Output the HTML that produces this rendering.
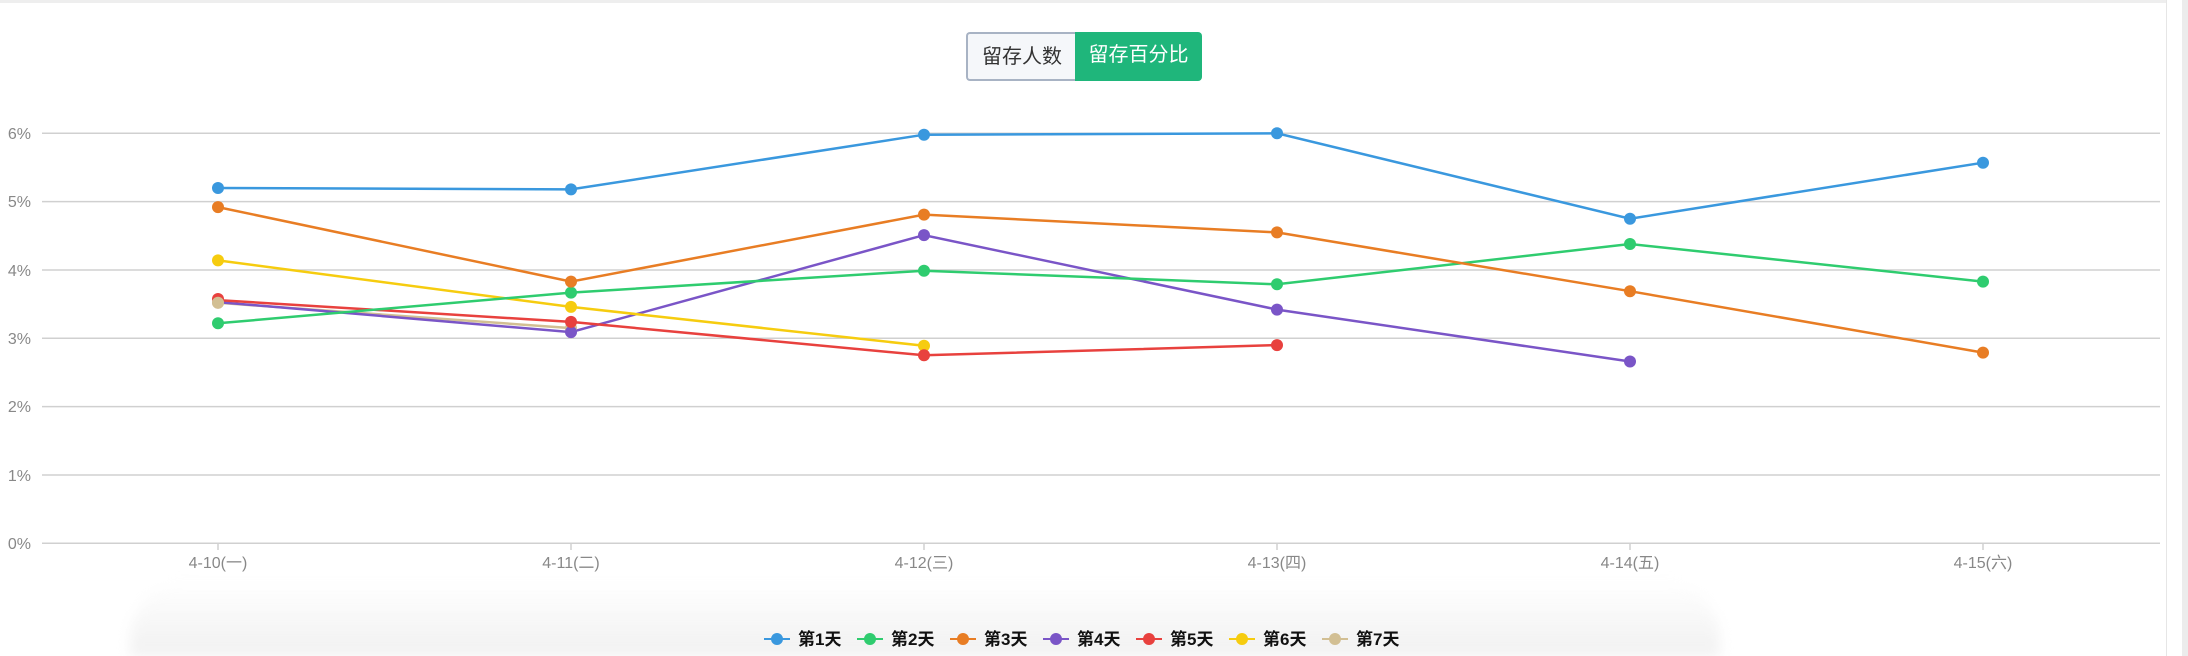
<!DOCTYPE html>
<html><head><meta charset="utf-8"><style>
html,body{margin:0;padding:0;background:#fff;}
body{width:2188px;height:656px;overflow:hidden;position:relative;font-family:"Liberation Sans","Noto Sans CJK SC",sans-serif;}
.btn{position:absolute;top:32px;height:49px;box-sizing:border-box;font-size:20px;line-height:47px;text-align:center;}
</style></head><body>
<div style="position:absolute;left:0;top:0;width:2166px;height:3px;background:#eeeeee"></div>
<div style="position:absolute;left:2166px;top:0;width:1px;height:656px;background:#e6e6e6"></div>
<div style="position:absolute;left:2182px;top:0;width:6px;height:656px;background:#ececec"></div>
<div style="position:absolute;left:130px;top:580px;width:1590px;height:76px;background:linear-gradient(rgba(240,240,240,0),#f1f1f1);border-radius:60px 60px 0 0;filter:blur(6px)"></div>
<div class="btn" style="left:966px;width:110px;border:2px solid #a8b3c4;border-right:none;border-radius:4px 0 0 4px;background:#f5f7fa;color:#333">留存人数</div>
<div class="btn" style="left:1075px;width:127px;background:#1fb67b;color:#fff;border-radius:0 4px 4px 0">留存百分比</div>
<svg width="2188" height="656" style="position:absolute;left:0;top:0">
<g stroke="#d0d0d0" stroke-width="1.5">
<line x1="42" x2="2160" y1="133.3" y2="133.3"/><line x1="42" x2="2160" y1="201.6" y2="201.6"/>
<line x1="42" x2="2160" y1="270" y2="270"/><line x1="42" x2="2160" y1="338.3" y2="338.3"/>
<line x1="42" x2="2160" y1="406.6" y2="406.6"/><line x1="42" x2="2160" y1="475" y2="475"/>
<line x1="42" x2="2160" y1="543.3" y2="543.3"/>
<line x1="218" x2="218" y1="543" y2="550"/><line x1="571" x2="571" y1="543" y2="550"/><line x1="924" x2="924" y1="543" y2="550"/><line x1="1277" x2="1277" y1="543" y2="550"/><line x1="1630" x2="1630" y1="543" y2="550"/><line x1="1983" x2="1983" y1="543" y2="550"/>
</g>
<g fill="#888" font-size="16" text-anchor="end" font-family="Liberation Sans,sans-serif">
<text x="31" y="139">6%</text><text x="31" y="207">5%</text><text x="31" y="276">4%</text><text x="31" y="344">3%</text><text x="31" y="412">2%</text><text x="31" y="481">1%</text><text x="31" y="549">0%</text>
</g>
<g fill="#888" font-size="16" text-anchor="middle" font-family="Liberation Sans,Noto Sans CJK SC,sans-serif">
<text x="218" y="568">4-10(一)</text><text x="571" y="568">4-11(二)</text><text x="924" y="568">4-12(三)</text><text x="1277" y="568">4-13(四)</text><text x="1630" y="568">4-14(五)</text><text x="1983" y="568">4-15(六)</text>
</g>
<g fill="none" stroke-width="2.5">
<polyline stroke="#d2bf93" points="218,302.8 571,328.1"/>
<polyline stroke="#7a55c7" points="218,302.1 571,332.1 924,235.1 1277,309.6 1630,361.5"/>
<polyline stroke="#f6cc0f" points="218,260.4 571,306.9 924,345.8"/>
<polyline stroke="#e8413e" points="218,300.1 571,321.9 924,355.3 1277,345.1"/>
<polyline stroke="#2fcc6f" points="218,323.3 571,292.6 924,270.7 1277,284.3 1630,244 1983,281.6"/>
<polyline stroke="#e87d24" points="218,207.1 571,281.6 924,214.6 1277,232.4 1630,291.2 1983,352.6"/>
<polyline stroke="#3a98de" points="218,188 571,189.4 924,134.7 1277,133.3 1630,218.7 1983,162.7"/>
</g>
<g fill="#d2bf93"><circle cx="218" cy="302.8" r="6"/><circle cx="571" cy="328.1" r="6"/></g>
<g fill="#7a55c7"><circle cx="571" cy="332.1" r="6"/><circle cx="924" cy="235.1" r="6"/><circle cx="1277" cy="309.6" r="6"/><circle cx="1630" cy="361.5" r="6"/></g>
<g fill="#f6cc0f"><circle cx="218" cy="260.4" r="6"/><circle cx="571" cy="306.9" r="6"/><circle cx="924" cy="345.8" r="6"/></g>
<g fill="#e8413e"><circle cx="218" cy="299" r="6"/><circle cx="571" cy="321.9" r="6"/><circle cx="924" cy="355.3" r="6"/><circle cx="1277" cy="345.1" r="6"/></g>
<g fill="#d2bf93"><circle cx="218" cy="302.8" r="6"/></g>
<g fill="#2fcc6f"><circle cx="218" cy="323.3" r="6"/><circle cx="571" cy="292.6" r="6"/><circle cx="924" cy="270.7" r="6"/><circle cx="1277" cy="284.3" r="6"/><circle cx="1630" cy="244" r="6"/><circle cx="1983" cy="281.6" r="6"/></g>
<g fill="#e87d24"><circle cx="218" cy="207.1" r="6"/><circle cx="571" cy="281.6" r="6"/><circle cx="924" cy="214.6" r="6"/><circle cx="1277" cy="232.4" r="6"/><circle cx="1630" cy="291.2" r="6"/><circle cx="1983" cy="352.6" r="6"/></g>
<g fill="#3a98de"><circle cx="218" cy="188" r="6"/><circle cx="571" cy="189.4" r="6"/><circle cx="924" cy="134.7" r="6"/><circle cx="1277" cy="133.3" r="6"/><circle cx="1630" cy="218.7" r="6"/><circle cx="1983" cy="162.7" r="6"/></g>
<g font-size="17" font-weight="bold" fill="#111" font-family="Liberation Sans,Noto Sans CJK SC,sans-serif">
<g transform="translate(777,639)"><line x1="-13" x2="13" stroke="#3a98de" stroke-width="2"/><circle r="6" fill="#3a98de"/><text x="21" y="6">第1天</text></g>
<g transform="translate(870,639)"><line x1="-13" x2="13" stroke="#2fcc6f" stroke-width="2"/><circle r="6" fill="#2fcc6f"/><text x="21" y="6">第2天</text></g>
<g transform="translate(963,639)"><line x1="-13" x2="13" stroke="#e87d24" stroke-width="2"/><circle r="6" fill="#e87d24"/><text x="21" y="6">第3天</text></g>
<g transform="translate(1056,639)"><line x1="-13" x2="13" stroke="#7a55c7" stroke-width="2"/><circle r="6" fill="#7a55c7"/><text x="21" y="6">第4天</text></g>
<g transform="translate(1149,639)"><line x1="-13" x2="13" stroke="#e8413e" stroke-width="2"/><circle r="6" fill="#e8413e"/><text x="21" y="6">第5天</text></g>
<g transform="translate(1242,639)"><line x1="-13" x2="13" stroke="#f6cc0f" stroke-width="2"/><circle r="6" fill="#f6cc0f"/><text x="21" y="6">第6天</text></g>
<g transform="translate(1335,639)"><line x1="-13" x2="13" stroke="#d2bf93" stroke-width="2"/><circle r="6" fill="#d2bf93"/><text x="21" y="6">第7天</text></g>
</g>
</svg>
</body></html>
